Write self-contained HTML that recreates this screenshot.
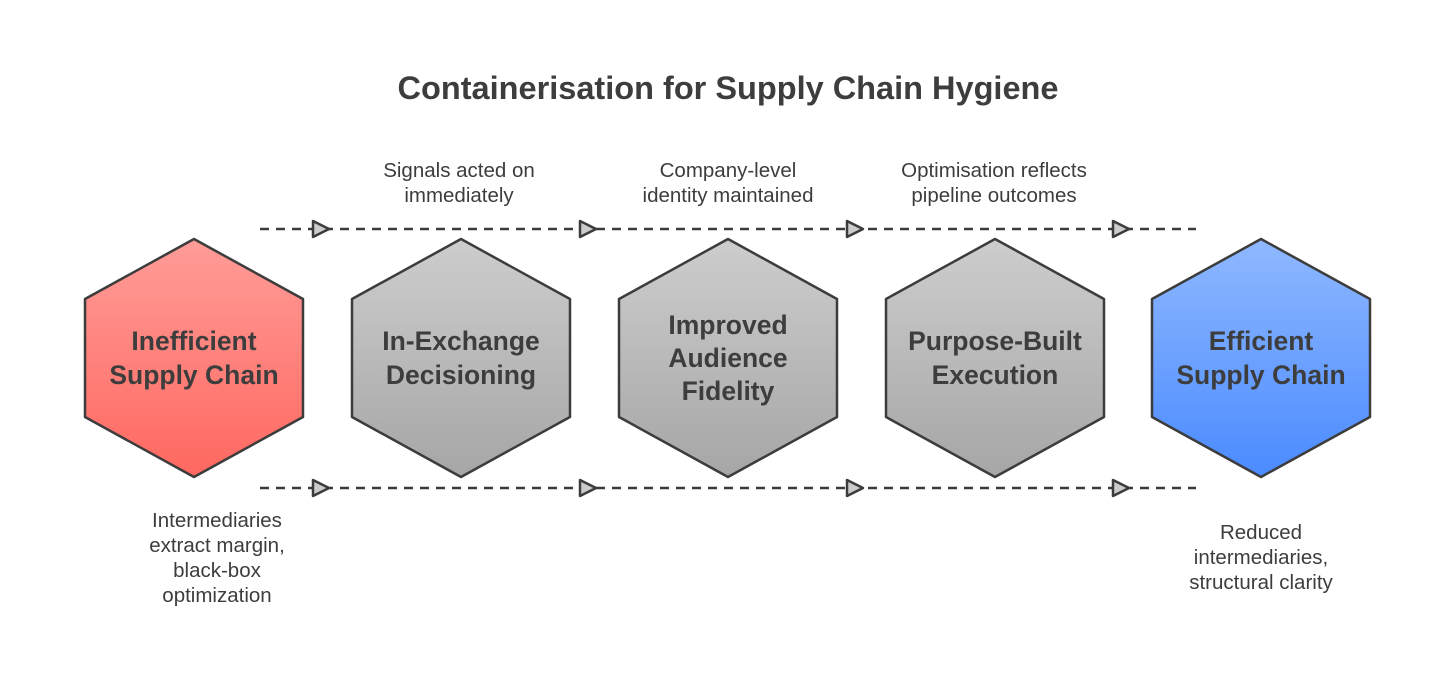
<!DOCTYPE html>
<html><head><meta charset="utf-8"><style>
html,body{margin:0;padding:0;background:#fff;}
svg{display:block;}
text{font-family:"Liberation Sans",sans-serif;fill:#3d3d3d;}
.t{font-weight:bold;font-size:26.5px;text-anchor:middle;}
.l{font-size:20.5px;text-anchor:middle;}
</style></head><body>
<svg width="1456" height="692" viewBox="0 0 1456 692" xmlns="http://www.w3.org/2000/svg">
<defs>
<linearGradient id="gr" x1="0" y1="0" x2="0" y2="1"><stop offset="0" stop-color="#ff9c98"/><stop offset="1" stop-color="#ff6860"/></linearGradient>
<linearGradient id="gg" x1="0" y1="0" x2="0" y2="1"><stop offset="0" stop-color="#cdcdcd"/><stop offset="1" stop-color="#a6a6a6"/></linearGradient>
<linearGradient id="gb" x1="0" y1="0" x2="0" y2="1"><stop offset="0" stop-color="#8fb8ff"/><stop offset="1" stop-color="#4a8bff"/></linearGradient>
<polygon id="hx" points="0,-119 109,-59 109,59 0,119 -109,59 -109,-59"/>
</defs>
<text x="728" y="99" style="font-weight:bold;font-size:32.5px;text-anchor:middle;">Containerisation for Supply Chain Hygiene</text>

<g stroke="#3c3c3c" stroke-width="2.5" stroke-dasharray="9,7" fill="none">
<line x1="260" y1="229" x2="1196" y2="229"/>
<line x1="260" y1="488" x2="1196" y2="488"/>
</g>
<g fill="#cccccc" stroke="#3c3c3c" stroke-width="2.5" stroke-linejoin="round">
<polygon points="313,221 329,229 313,237"/><polygon points="580,221 596,229 580,237"/><polygon points="847,221 863,229 847,237"/><polygon points="1113,221 1129,229 1113,237"/>
<polygon points="313,480 329,488 313,496"/><polygon points="580,480 596,488 580,496"/><polygon points="847,480 863,488 847,496"/><polygon points="1113,480 1129,488 1113,496"/>
</g>

<g stroke="#3c3c3c" stroke-width="2.5" stroke-linejoin="round">
<use href="#hx" x="194" y="358" fill="url(#gr)"/>
<use href="#hx" x="461" y="358" fill="url(#gg)"/>
<use href="#hx" x="728" y="358" fill="url(#gg)"/>
<use href="#hx" x="995" y="358" fill="url(#gg)"/>
<use href="#hx" x="1261" y="358" fill="url(#gb)"/>
</g>

<text class="t" x="194" y="350">Inefficient</text><text class="t" x="194" y="384">Supply Chain</text>
<text class="t" x="461" y="350">In-Exchange</text><text class="t" x="461" y="384">Decisioning</text>
<text class="t" x="728" y="334">Improved</text><text class="t" x="728" y="367">Audience</text><text class="t" x="728" y="400">Fidelity</text>
<text class="t" x="995" y="350">Purpose-Built</text><text class="t" x="995" y="384">Execution</text>
<text class="t" x="1261" y="350">Efficient</text><text class="t" x="1261" y="384">Supply Chain</text>

<text class="l" x="459" y="177">Signals acted on</text><text class="l" x="459" y="202">immediately</text>
<text class="l" x="728" y="177">Company-level</text><text class="l" x="728" y="202">identity maintained</text>
<text class="l" x="994" y="177">Optimisation reflects</text><text class="l" x="994" y="202">pipeline outcomes</text>
<text class="l" x="217" y="527">Intermediaries</text><text class="l" x="217" y="552">extract margin,</text><text class="l" x="217" y="577">black-box</text><text class="l" x="217" y="602">optimization</text>
<text class="l" x="1261" y="539">Reduced</text><text class="l" x="1261" y="564">intermediaries,</text><text class="l" x="1261" y="589">structural clarity</text>
</svg>
</body></html>
